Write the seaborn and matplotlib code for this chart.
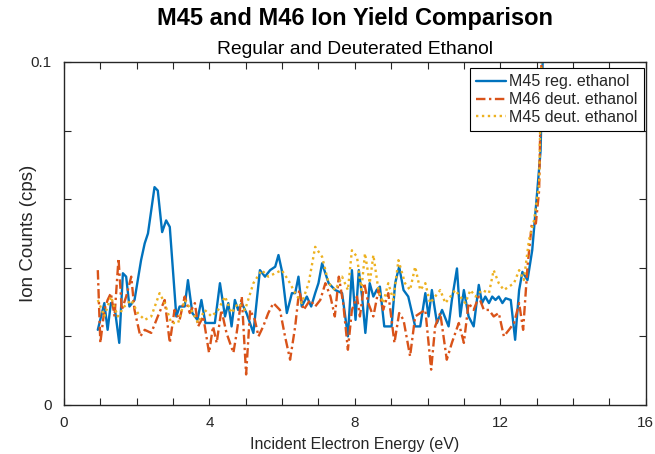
import matplotlib
matplotlib.use("Agg")
import matplotlib.pyplot as plt
import seaborn as sns
import pandas as pd
from matplotlib.ticker import MultipleLocator, FixedLocator

# ---- data ----
x_reg45 = [0.93, 1.11, 1.20, 1.29, 1.39, 1.52, 1.62, 1.71, 1.80, 1.94, 2.12, 2.22, 2.31, 2.49, 2.58,
           2.70, 2.81, 2.91, 3.09, 3.18, 3.32, 3.41, 3.53, 3.67, 3.78, 3.89, 4.01, 4.15, 4.29, 4.43,
           4.52, 4.61, 4.70, 4.79, 4.89, 5.02, 5.21, 5.39, 5.53, 5.67, 5.81, 5.90, 5.99, 6.13, 6.27,
           6.36, 6.45, 6.54, 6.68, 6.80, 6.91, 7.00, 7.10, 7.28, 7.46, 7.65, 7.81, 7.92, 8.02, 8.11,
           8.20, 8.29, 8.41, 8.51, 8.60, 8.69, 8.81, 9.01, 9.11, 9.22, 9.34, 9.47, 9.66, 9.80, 9.94,
           10.03, 10.12, 10.26, 10.40, 10.58, 10.67, 10.81, 10.90, 11.00, 11.13, 11.27, 11.41, 11.50,
           11.59, 11.69, 11.78, 11.87, 11.96, 12.06, 12.15, 12.29, 12.41, 12.52, 12.61, 12.75, 12.88,
           13.02, 13.11, 13.20]
y_reg45 = [0.0219, 0.0297, 0.0219, 0.0297, 0.0287, 0.0181, 0.0384, 0.0374, 0.0287, 0.0306, 0.0422,
           0.0471, 0.0500, 0.0635, 0.0625, 0.0504, 0.0538, 0.0519, 0.0258, 0.0287, 0.0287, 0.0364,
           0.0268, 0.0248, 0.0306, 0.0239, 0.0239, 0.0239, 0.0355, 0.0258, 0.0297, 0.0229, 0.0306,
           0.0277, 0.0297, 0.0268, 0.0210, 0.0393, 0.0374, 0.0393, 0.0403, 0.0437, 0.0393, 0.0268,
           0.0326, 0.0326, 0.0374, 0.0287, 0.0316, 0.0287, 0.0326, 0.0355, 0.0413, 0.0355, 0.0335,
           0.0326, 0.0200, 0.0393, 0.0248, 0.0393, 0.0316, 0.0210, 0.0355, 0.0316, 0.0335, 0.0345,
           0.0229, 0.0229, 0.0355, 0.0403, 0.0335, 0.0316, 0.0229, 0.0229, 0.0326, 0.0258, 0.0335,
           0.0239, 0.0277, 0.0229, 0.0306, 0.0398, 0.0258, 0.0335, 0.0258, 0.0229, 0.0350, 0.0297,
           0.0316, 0.0297, 0.0316, 0.0306, 0.0316, 0.0297, 0.0311, 0.0306, 0.0190, 0.0335, 0.0388,
           0.0364, 0.0451, 0.0625, 0.0741, 0.1150]

x_deut46 = [0.93, 1.00, 1.11, 1.20, 1.29, 1.39, 1.50, 1.59, 1.71, 1.85, 1.94, 2.10, 2.22, 2.40, 2.58,
            2.77, 2.91, 3.04, 3.18, 3.32, 3.46, 3.60, 3.69, 3.83, 3.99, 4.10, 4.20, 4.33, 4.47, 4.66,
            4.75, 4.89, 5.01, 5.12, 5.25, 5.35, 5.48, 5.62, 5.76, 5.94, 6.08, 6.22, 6.36, 6.47, 6.59,
            6.77, 6.91, 7.05, 7.19, 7.33, 7.45, 7.56, 7.68, 7.81, 7.92, 8.06, 8.14, 8.26, 8.37, 8.51,
            8.65, 8.78, 8.92, 9.09, 9.22, 9.34, 9.52, 9.66, 9.80, 9.94, 10.10, 10.21, 10.35, 10.53,
            10.67, 10.86, 11.00, 11.13, 11.27, 11.41, 11.55, 11.69, 11.82, 11.96, 12.10, 12.24, 12.38,
            12.52, 12.63, 12.75, 12.87, 12.98, 13.07, 13.16]
y_deut46 = [0.0393, 0.0181, 0.0277, 0.0306, 0.0326, 0.0258, 0.0427, 0.0277, 0.0316, 0.0374, 0.0277,
            0.0200, 0.0219, 0.0210, 0.0258, 0.0306, 0.0181, 0.0277, 0.0248, 0.0316, 0.0268, 0.0297,
            0.0229, 0.0258, 0.0152, 0.0229, 0.0181, 0.0277, 0.0210, 0.0152, 0.0210, 0.0316, 0.0089,
            0.0277, 0.0248, 0.0200, 0.0229, 0.0268, 0.0297, 0.0277, 0.0200, 0.0132, 0.0229, 0.0335,
            0.0277, 0.0306, 0.0287, 0.0306, 0.0355, 0.0316, 0.0258, 0.0374, 0.0297, 0.0161, 0.0277,
            0.0316, 0.0258, 0.0355, 0.0297, 0.0258, 0.0335, 0.0277, 0.0326, 0.0181, 0.0268, 0.0248,
            0.0142, 0.0258, 0.0268, 0.0277, 0.0103, 0.0229, 0.0268, 0.0132, 0.0181, 0.0239, 0.0181,
            0.0297, 0.0277, 0.0316, 0.0277, 0.0277, 0.0258, 0.0268, 0.0200, 0.0219, 0.0239, 0.0297,
            0.0219, 0.0403, 0.0529, 0.0529, 0.0625, 0.1150]

x_deut45 = [0.93, 1.11, 1.29, 1.48, 1.66, 1.85, 2.03, 2.22, 2.40, 2.63, 2.77, 2.95, 3.14, 3.32, 3.50,
            3.69, 3.87, 4.06, 4.24, 4.43, 4.61, 4.79, 4.98, 5.21, 5.44, 5.62, 5.81, 5.99, 6.17, 6.36,
            6.54, 6.73, 6.91, 7.10, 7.28, 7.46, 7.65, 7.81, 7.92, 8.06, 8.18, 8.28, 8.41, 8.51, 8.65,
            8.78, 8.92, 9.06, 9.20, 9.38, 9.52, 9.66, 9.80, 9.94, 10.07, 10.21, 10.35, 10.49, 10.63,
            10.76, 10.90, 11.04, 11.18, 11.32, 11.50, 11.69, 11.82, 11.96, 12.10, 12.24, 12.38, 12.52,
            12.65, 12.79, 12.93, 13.07, 13.16]
y_deut45 = [0.0306, 0.0258, 0.0316, 0.0258, 0.0287, 0.0306, 0.0268, 0.0248, 0.0258, 0.0326, 0.0297,
            0.0239, 0.0239, 0.0306, 0.0277, 0.0239, 0.0277, 0.0258, 0.0277, 0.0316, 0.0268, 0.0297,
            0.0277, 0.0355, 0.0393, 0.0374, 0.0384, 0.0393, 0.0364, 0.0326, 0.0297, 0.0355, 0.0461,
            0.0432, 0.0355, 0.0335, 0.0374, 0.0335, 0.0451, 0.0432, 0.0335, 0.0442, 0.0355, 0.0437,
            0.0335, 0.0297, 0.0355, 0.0306, 0.0422, 0.0355, 0.0335, 0.0403, 0.0335, 0.0355, 0.0297,
            0.0316, 0.0335, 0.0297, 0.0316, 0.0335, 0.0316, 0.0297, 0.0335, 0.0316, 0.0335, 0.0326,
            0.0393, 0.0355, 0.0335, 0.0345, 0.0355, 0.0393, 0.0364, 0.0480, 0.0538, 0.0645, 0.1150]

labels = ["M45 reg. ethanol", "M46 deut. ethanol", "M45 deut. ethanol"]
x_ticks = [0, 4, 8, 12, 16]
y_ticks = [0, 0.1]

# ---- plot ----
sns.set_style("white")
plt.rcParams["font.family"] = ["Liberation Sans", "DejaVu Sans"]

fig = plt.figure(figsize=(6.55, 4.54), dpi=100)
ax = fig.add_axes([0.0977, 0.108, 0.888, 0.7556])

df = pd.concat([
    pd.DataFrame({"x": x_reg45, "y": y_reg45, "series": labels[0]}),
    pd.DataFrame({"x": x_deut46, "y": y_deut46, "series": labels[1]}),
    pd.DataFrame({"x": x_deut45, "y": y_deut45, "series": labels[2]}),
])

palette = {labels[0]: "#0072BD", labels[1]: "#D95319", labels[2]: "#EDB120"}
dashes = {labels[0]: "", labels[1]: (4, 1.5, 1, 1.5), labels[2]: (1, 1.5)}

sns.lineplot(data=df, x="x", y="y", hue="series", style="series", palette=palette,
             dashes=dashes, sort=False, estimator=None, linewidth=1.7, ax=ax)

ax.set_xlim(0, 16)
ax.set_ylim(0, 0.1)
ax.xaxis.set_major_locator(FixedLocator(x_ticks))
ax.xaxis.set_minor_locator(MultipleLocator(1))
ax.yaxis.set_major_locator(FixedLocator(y_ticks))
ax.yaxis.set_minor_locator(MultipleLocator(0.02))
ax.set_xticklabels([str(t) for t in x_ticks])
ax.set_yticklabels(["0", "0.1"])
ax.tick_params(which="both", direction="in", top=True, right=True, bottom=True, left=True,
               length=5, width=0.8, color="#262626", labelsize=11, colors="#262626")
ax.tick_params(axis="x", which="major", pad=8)
ax.tick_params(axis="y", which="major", pad=9)
for s in ax.spines.values():
    s.set_color("#262626")
    s.set_linewidth(1.0)

ax.set_xlabel("Incident Electron Energy (eV)", fontsize=11.5, color="#262626", labelpad=5)
ax.set_ylabel("Ion Counts (cps)", fontsize=13.5, color="#262626")
ax.yaxis.set_label_coords(-27 / 582, 0.5)

axc = 0.5 * (0.0977 + 0.9857)
fig.text(axc, 1 - 19 / 454, "M45 and M46 Ion Yield Comparison",
         ha="center", va="center", fontsize=17, fontweight="bold", color="#000000")
fig.text(axc, 1 - 49 / 454, "Regular and Deuterated Ethanol",
         ha="center", va="center", fontsize=13.9, color="#000000")

leg = ax.legend(loc="upper right", bbox_to_anchor=(1 - 2 / 582, 1 - 6 / 343),
                fontsize=11.5, frameon=True, fancybox=False,
                edgecolor="#000000", borderaxespad=0.0, handlelength=1.9,
                handletextpad=0.15, borderpad=0.4, labelspacing=0.18)
leg.get_frame().set_linewidth(0.8)
leg.get_frame().set_alpha(1)

fig.savefig("out.png", dpi=100, facecolor="white")
